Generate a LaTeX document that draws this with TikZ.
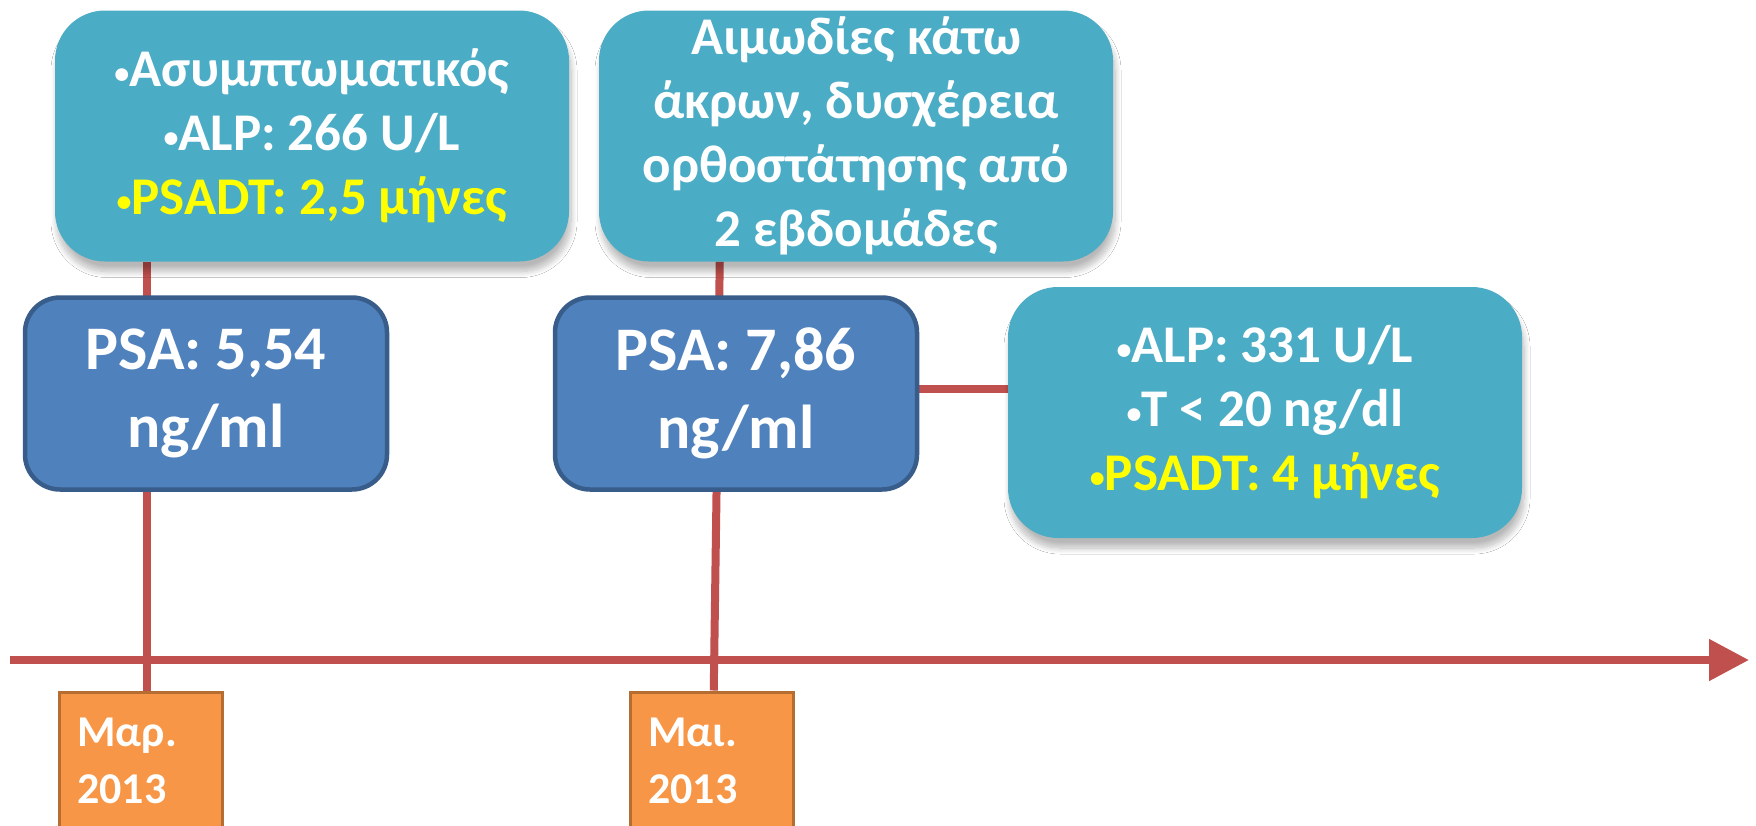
\documentclass[tikz,border=0pt]{standalone}
\usepackage{fontspec}
\setmainfont{Carlito}
\usetikzlibrary{arrows.meta,shadows.blur}
\definecolor{teal}{HTML}{4BACC6}
\definecolor{psafill}{HTML}{4F81BD}
\definecolor{psaline}{HTML}{385D8A}
\definecolor{redline}{HTML}{C0504D}
\definecolor{orangefill}{HTML}{F79646}
\definecolor{orangeline}{HTML}{B66D31}
\definecolor{hl}{HTML}{FFFF00}
\newcommand{\bul}{\raisebox{3pt}{\fontsize{30}{30}\selectfont\textbullet}}
\pgfdeclarelayer{bg}
\pgfsetlayers{bg,main}
\tikzset{
  infobox/.style={fill=teal, rounded corners=50pt, minimum width=514pt, minimum height=251pt,
    inner sep=0pt, align=center, text=white, font=\bfseries\fontsize{53}{64}\selectfont,
    blur shadow={shadow xshift=2pt, shadow yshift=-10pt, shadow blur steps=12, shadow opacity=28, shadow blur radius=6pt}},
  psabox/.style={fill=psafill, draw=psaline, line width=4.5pt, rounded corners=35pt,
    minimum width=362pt, minimum height=192pt, inner sep=0pt, align=center, text=white,
    font=\bfseries\fontsize{62}{78}\selectfont},
  datebox/.style={fill=orangefill, draw=orangeline, line width=3.5pt, anchor=north west,
    minimum width=163pt, inner xsep=18pt, inner ysep=0pt,
    text width=127pt, align=left, text=white, font=\bfseries\fontsize{44}{57}\selectfont},
  conn/.style={draw=redline, line width=8pt},
}
\begin{document}
\begin{tikzpicture}[x=1pt,y=-1pt]
\useasboundingbox (0,0) rectangle (1756,825);
\clip (0,0) rectangle (1756,825);

\node[infobox] (b1) at (312,136) {\bul Ασυμπτωματικός\\\bul ALP: 266 U/L\\\textcolor{hl}{\bul PSADT: 2,5 μήνες}};
\node[infobox] (b2) at (856,136) {Αιμωδίες κάτω\\άκρων, δυσχέρεια\\ορθοστάτησης από\\2 εβδομάδες};
\node[infobox] (b3) at (1265,412.5) {\bul ALP: 331 U/L\\\bul T < 20 ng/dl\\\textcolor{hl}{\bul PSADT: 4 μήνες}};

\node[psabox] (p1) at (206,393.5) {PSA: 5,54\\ng/ml};
\node[psabox] (p2) at (736,393.5) {PSA: 7,86\\ng/ml};

\node[datebox] (d1) at (57.5,690.5) {\rule{0pt}{54.5pt}Μαρ.\\2013\rule[-100pt]{0pt}{100pt}};
\node[datebox] (d2) at (628.5,690.5) {\rule{0pt}{54.5pt}Μαι.\\2013\rule[-100pt]{0pt}{100pt}};

\coordinate (tl0) at (10,660);
\coordinate (tl1) at (1749,660);

\begin{pgfonlayer}{bg}
\fill[white] (0,0) rectangle (1756,825);
\draw[conn] ([xshift=6pt]d1.north) -- ([xshift=6pt]d1.north |- b1.south);
\draw[conn] ([xshift=2pt]d2.north) -- ([xshift=8pt]d2.north |- b2.south);
\draw[conn] ([yshift=5pt]p2.east) -- ([yshift=5pt]p2.east -| b3.west);
\draw[conn, -{Triangle[length=40pt,width=40pt]}] (tl0) -- (tl1);
\end{pgfonlayer}
\end{tikzpicture}
\end{document}
